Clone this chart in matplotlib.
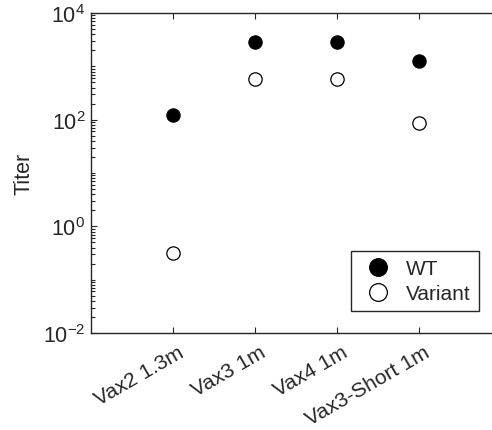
import numpy as np
import matplotlib
matplotlib.use("Agg")
import matplotlib.pyplot as plt
from matplotlib.ticker import FixedLocator, NullFormatter
from matplotlib.transforms import ScaledTranslation

plt.rcParams["font.family"] = ["Liberation Sans", "DejaVu Sans"]

groups = ["Vax2 1.3m", "Vax3 1m", "Vax4 1m", "Vax3-Short 1m"]
wt_titer = [121, 2900, 2900, 1240]
variant_titer = [0.31, 570, 570, 88]

INK = "#262626"

fig = plt.figure(figsize=(4.92, 4.31), dpi=100)
# axes runs slightly past the right edge of the image, like the original export
ax = fig.add_axes([91 / 492, 1 - 334 / 431, 410 / 492, 320 / 431])

x = np.arange(1, len(groups) + 1)
ax.plot(x, wt_titer, "o", ms=9.6, mfc="black", mec="black", mew=0.8,
        ls="none", label="WT")
ax.plot(x, variant_titer, "o", ms=9.6, mfc="white", mec="black", mew=0.9,
        ls="none", label="Variant")

ax.set_yscale("log")
ax.set_ylim(1e-2, 1e4)
ax.set_xlim(0, len(groups) + 1)

ax.yaxis.set_major_locator(FixedLocator([1e-2, 1e0, 1e2, 1e4]))
minor = [m * 10.0 ** k for k in range(-2, 4) for m in range(2, 10)]
minor += [1e-1, 1e1, 1e3]
ax.yaxis.set_minor_locator(FixedLocator(minor))
ax.yaxis.set_minor_formatter(NullFormatter())
ax.set_yticklabels([r"$\mathregular{10^{-2}}$", r"$\mathregular{10^{0}}$",
                    r"$\mathregular{10^{2}}$", r"$\mathregular{10^{4}}$"])

# x tick labels drawn by hand so they can sit a little right of the tick, as in MATLAB
ax.set_xticks(x)
ax.set_xticklabels([])
shift = ScaledTranslation(6.5 / 72, -12.5 / 72, fig.dpi_scale_trans)
for xi, name in zip(x, groups):
    ax.text(xi, 0, name, transform=ax.get_xaxis_transform() + shift,
            rotation=30, ha="right", va="center", rotation_mode="anchor",
            fontsize=15.2, color=INK, clip_on=False)

ax.tick_params(axis="both", which="both", direction="in", colors=INK,
               labelcolor=INK, labelsize=15.5, top=True, right=True)
ax.tick_params(axis="both", which="major", length=4, width=0.8)
ax.tick_params(axis="y", which="minor", length=3, width=0.8)
ax.tick_params(axis="y", which="major", pad=4)

for sp in ax.spines.values():
    sp.set_color(INK)
    sp.set_linewidth(1.0)

ax.set_ylabel("Titer", fontsize=15.5, color=INK, labelpad=6)

leg = ax.legend(loc="lower right", fontsize=15, fancybox=False,
                framealpha=1, edgecolor=INK, borderpad=0.38, borderaxespad=0,
                handletextpad=0.4, labelspacing=0.3, handlelength=1.9,
                markerscale=1.33)
leg.set_bbox_to_anchor((479 / 492, 1 - 312 / 431), transform=fig.transFigure)
leg.get_frame().set_linewidth(1.0)
for t in leg.get_texts():
    t.set_color(INK)

fig.savefig("out.png", dpi=100)
